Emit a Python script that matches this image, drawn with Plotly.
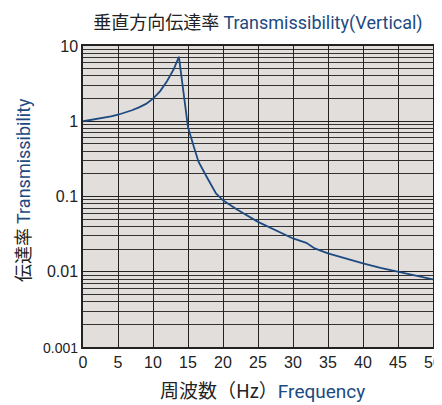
import plotly.graph_objects as go

freq = [0, 2, 4, 5, 6, 7, 8, 9, 10, 11, 12, 13, 13.7, 14.4, 15, 15.8, 16.5, 17.7, 19, 20, 22, 25, 28, 30, 31.9, 33.1, 35, 37.5, 40, 42.5, 45, 47.5, 50]
trans = [1.0, 1.07, 1.16, 1.22, 1.3, 1.4, 1.53, 1.7, 2.0, 2.5, 3.4, 5.0, 7.2, 2.2, 0.83, 0.47, 0.29, 0.18, 0.11, 0.089, 0.067, 0.046, 0.034, 0.0277, 0.0242, 0.0204, 0.0175, 0.015, 0.0129, 0.0113, 0.01, 0.0089, 0.0079]

x_ticks = [0, 5, 10, 15, 20, 25, 30, 35, 40, 45, 50]
y_ticks = [0.001, 0.01, 0.1, 1, 10]
y_ticklabels = ["<span style='font-size:14px'>0.001</span>", "0.01", "0.1", "1", "10"]
y_minor = [m * 10 ** e for e in (-3, -2, -1, 0) for m in range(2, 10)]

BLUE = "#1d4a80"
JP = "Noto Sans CJK JP"
EN = "Liberation Sans Narrow, Roboto, Arial"
NUM = "Liberation Sans, Arial"

# page body has an 8px default margin; figure sized to fit the 442x405 window
W, H = 434, 397
L, R, T, B = 75, 9, 37.5, 57.5
PW = W - L - R
PH = H - T - B

fig = go.Figure()
fig.add_trace(go.Scatter(x=freq, y=trans, mode="lines",
                         line=dict(color=BLUE, width=1.8), showlegend=False))

fig.update_layout(
    width=W, height=H,
    margin=dict(l=L, r=R, t=T, b=B, autoexpand=False),
    paper_bgcolor="white",
    plot_bgcolor="#e2dedc",
    title=dict(
        text=f"<span style='font-family:{JP}'>垂直方向伝達率</span> "
             f"<span style='color:{BLUE};font-family:{EN}'>Transmissibility(Vertical)</span>",
        x=0.5, xref="paper", xanchor="center",
        y=1 - 15 / H, yref="container", yanchor="middle",
        font=dict(size=18, color="#222", family=JP),
    ),
    xaxis=dict(
        range=[0, 50], tickvals=x_ticks, ticktext=[str(v) for v in x_ticks],
        showgrid=True, gridcolor="#222", gridwidth=1,
        showline=True, linecolor="#222", linewidth=1.5, mirror=True,
        ticks="", zeroline=False, automargin=False,
        tickfont=dict(family=NUM, size=16, color="#222"),
    ),
    yaxis=dict(
        type="log", range=[-3, 1],
        tickvals=y_ticks, ticktext=y_ticklabels,
        showgrid=True, gridcolor="#222", gridwidth=1,
        minor=dict(tickvals=y_minor, showgrid=True, gridcolor="#333", gridwidth=1, ticks=""),
        showline=True, linecolor="#222", linewidth=1.5, mirror=True,
        ticks="", zeroline=False, automargin=False,
        tickfont=dict(family=NUM, size=16, color="#222"),
    ),
    annotations=[
        dict(text=f"<span style='font-family:{JP}'>周波数（Hz）</span>"
                  f"<span style='color:{BLUE};font-family:{EN}'>Frequency</span>",
             xref="paper", yref="paper", x=(254 - L) / PW, y=-(382 - (H - B)) / PH,
             xanchor="center", yanchor="middle", showarrow=False,
             font=dict(size=19, color="#222", family=JP)),
        dict(text=f"<span style='font-family:{JP}'>伝達率</span> "
                  f"<span style='color:{BLUE};font-family:{EN}'>Transmissibility</span>",
             xref="paper", yref="paper", x=-(L - 14) / PW, y=((H - B) - 182) / PH,
             xanchor="center", yanchor="middle", textangle=-90, showarrow=False,
             font=dict(size=18, color="#222", family=JP)),
    ],
)

fig.write_html("out.html")
